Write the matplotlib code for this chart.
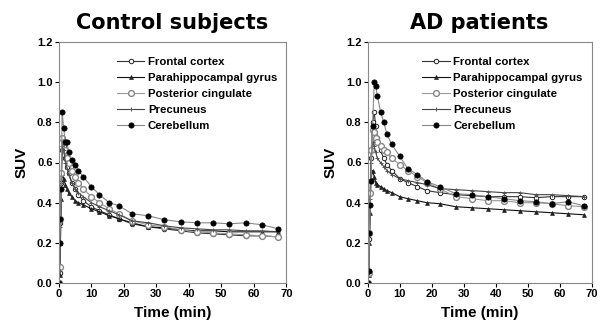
import matplotlib
matplotlib.use("Agg")
import matplotlib.pyplot as plt

plt.rcParams['font.family'] = ['Liberation Sans', 'DejaVu Sans']

times = [0, 0.25, 0.5, 0.75, 1, 1.5, 2, 2.5, 3, 4, 5, 6, 7.5, 10, 12.5, 15.5,
         18.5, 22.5, 27.5, 32.5, 37.5, 42.5, 47.5, 52.5, 57.5, 62.5, 67.5]

regions = ["Frontal cortex", "Parahippocampal gyrus", "Posterior cingulate",
           "Precuneus", "Cerebellum"]

ctrl_frontal = [0, 0.05, 0.30, 0.50, 0.66, 0.68, 0.62, 0.58, 0.55, 0.50, 0.47, 0.44, 0.41,
                0.38, 0.36, 0.34, 0.32, 0.295, 0.28, 0.27, 0.26, 0.25, 0.245, 0.24, 0.235, 0.235, 0.23]
ctrl_parahip = [0, 0.04, 0.20, 0.42, 0.55, 0.52, 0.49, 0.47, 0.45, 0.43, 0.41, 0.40, 0.39,
                0.37, 0.355, 0.335, 0.32, 0.30, 0.28, 0.275, 0.265, 0.26, 0.26, 0.255, 0.255, 0.255, 0.255]
ctrl_postcing = [0, 0.08, 0.32, 0.55, 0.72, 0.70, 0.66, 0.62, 0.60, 0.56, 0.53, 0.50, 0.47,
                 0.43, 0.40, 0.37, 0.345, 0.31, 0.29, 0.28, 0.265, 0.255, 0.25, 0.245, 0.24, 0.235, 0.23]
ctrl_precun = [0, 0.06, 0.28, 0.50, 0.68, 0.66, 0.60, 0.57, 0.54, 0.50, 0.47, 0.45, 0.43,
               0.40, 0.38, 0.36, 0.34, 0.31, 0.30, 0.285, 0.275, 0.27, 0.265, 0.265, 0.26, 0.26, 0.255]
ctrl_cereb = [0, 0.20, 0.32, 0.47, 0.85, 0.77, 0.70, 0.70, 0.65, 0.61, 0.59, 0.56, 0.53,
              0.48, 0.44, 0.40, 0.385, 0.345, 0.335, 0.315, 0.305, 0.30, 0.30, 0.295, 0.30, 0.29, 0.27]

ad_frontal = [0, 0.05, 0.22, 0.45, 0.62, 0.80, 0.85, 0.78, 0.72, 0.66, 0.62, 0.59, 0.56,
              0.52, 0.50, 0.48, 0.46, 0.45, 0.44, 0.435, 0.43, 0.43, 0.43, 0.425, 0.43, 0.43, 0.43]
ad_parahip = [0, 0.04, 0.20, 0.35, 0.52, 0.56, 0.53, 0.50, 0.49, 0.48, 0.47, 0.46, 0.45,
              0.43, 0.42, 0.41, 0.40, 0.395, 0.38, 0.375, 0.37, 0.365, 0.36, 0.355, 0.35, 0.345, 0.34]
ad_postcing = [0, 0.05, 0.25, 0.45, 0.66, 0.76, 0.75, 0.72, 0.70, 0.68, 0.66, 0.65, 0.62,
               0.59, 0.56, 0.53, 0.50, 0.47, 0.43, 0.42, 0.41, 0.41, 0.40, 0.40, 0.395, 0.385, 0.38]
ad_precun = [0, 0.05, 0.24, 0.42, 0.60, 0.70, 0.68, 0.65, 0.62, 0.60, 0.58, 0.56, 0.54,
             0.52, 0.51, 0.50, 0.49, 0.47, 0.465, 0.46, 0.455, 0.45, 0.45, 0.44, 0.44, 0.435, 0.43]
ad_cereb = [0, 0.06, 0.25, 0.39, 0.51, 0.78, 1.00, 0.98, 0.93, 0.85, 0.80, 0.74, 0.69,
            0.63, 0.57, 0.54, 0.505, 0.48, 0.445, 0.44, 0.43, 0.42, 0.41, 0.405, 0.395, 0.405, 0.385]

styles = [
    dict(color="#333333", marker="o", ms=3.2, mfc="white", mec="#222222", mew=0.7),
    dict(color="#111111", marker="^", ms=2.8, mfc="#222222", mec="#222222", mew=0.5),
    dict(color="#999999", marker="o", ms=4.2, mfc="white", mec="#888888", mew=1.0),
    dict(color="#444444", marker="+", ms=3.2, mec="#555555", mew=0.7),
    dict(color="#888888", marker="o", ms=3.8, mfc="#000000", mec="#000000", mew=0.5),
]

fig = plt.figure(figsize=(6.13, 3.25), dpi=100)
ax1 = fig.add_axes([0.096, 0.129, 0.371, 0.742])
ax2 = fig.add_axes([0.600, 0.129, 0.365, 0.742])

panels = [
    (ax1, "Control subjects", [ctrl_frontal, ctrl_parahip, ctrl_postcing, ctrl_precun, ctrl_cereb]),
    (ax2, "AD patients", [ad_frontal, ad_parahip, ad_postcing, ad_precun, ad_cereb]),
]

for ax, title, series in panels:
    for name, vals, st in zip(regions, series, styles):
        ax.plot(times, vals, lw=0.8, label=name, **st)
    ax.set_xlim(0, 70)
    ax.set_ylim(0, 1.2)
    ax.set_xticks(range(0, 80, 10))
    ax.set_yticks([0, 0.2, 0.4, 0.6, 0.8, 1.0, 1.2])
    ax.set_yticklabels(["0.0", "0.2", "0.4", "0.6", "0.8", "1.0", "1.2"])
    for lab in ax.get_xticklabels() + ax.get_yticklabels():
        lab.set_fontweight("bold")
        lab.set_fontsize(8)
    ax.tick_params(length=3, width=0.8, pad=1.5)
    for sp in ax.spines.values():
        sp.set_color("#888888")
        sp.set_linewidth(0.8)
    ax.set_title(title, fontsize=15, fontweight="bold", pad=9, family="DejaVu Sans")
    ax.set_xlabel("Time (min)", fontsize=11, fontweight="bold", labelpad=5)
    ax.set_ylabel("SUV", fontsize=11, fontweight="bold", labelpad=6)
    ax.legend(loc="upper right", frameon=False, handlelength=2.4,
              handletextpad=0.3, labelspacing=0.52, borderaxespad=0.4,
              bbox_to_anchor=(1.0, 0.975),
              prop={"weight": "bold", "size": 8.2})

fig.savefig("out.png", dpi=100)
